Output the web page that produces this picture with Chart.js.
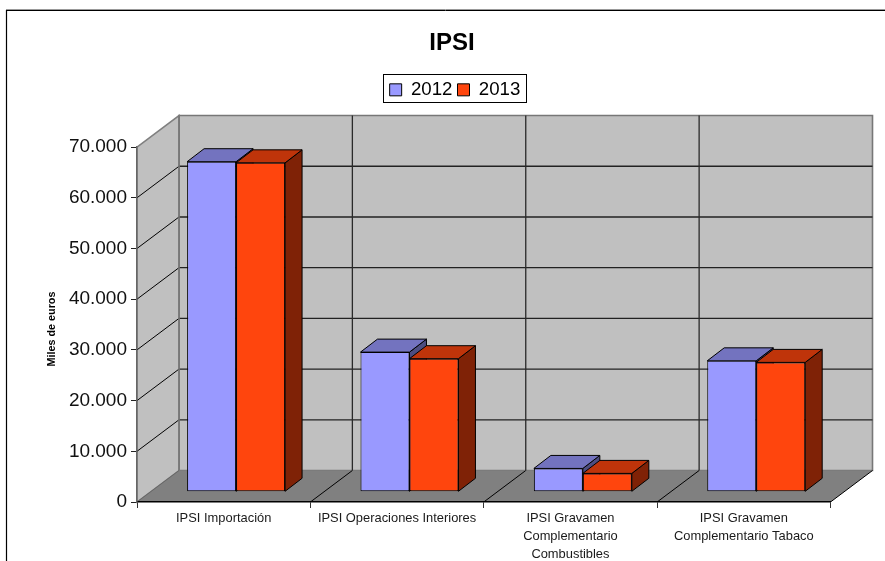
<!DOCTYPE html>
<html><head><meta charset="utf-8">
<style>html,body{margin:0;padding:0;background:#fff;overflow:hidden}canvas{display:block}</style>
<script src="https://cdn.jsdelivr.net/npm/chart.js@4"></script>
</head><body>
<div style="width:885px;height:561px;position:relative"><canvas id="c"></canvas></div>
<script>
const categories = ['IPSI Importación', 'IPSI Operaciones Interiores', ['IPSI Gravamen','Complementario','Combustibles'], ['IPSI Gravamen','Complementario Tabaco']];
const seriesNames = ['2012', '2013'];
const values2012 = [65100, 27550, 4610, 25830];
const values2013 = [64880, 26250, 3630, 25520];
const yTicksMax = 70000, yTickStep = 10000;
const frontColors = ['#9999FF', '#FF450D'];
const topColors = ['#7373BF', '#BF340A'];
const sideColors = ['#4D4D80', '#7F2206'];
const FONT = '"Liberation Sans", Arial, sans-serif';
const WALL = {dx: 42, dy: -31.5};
const BAR_SHIFT = {dx: 12.4, dy: -10.2};
const BAR_DEPTH = {dx: 17, dy: -13};

function poly(ctx, pts, fill, stroke, lw) {
  ctx.beginPath();
  pts.forEach((p, i) => i ? ctx.lineTo(p[0], p[1]) : ctx.moveTo(p[0], p[1]));
  ctx.closePath();
  if (fill) { ctx.fillStyle = fill; ctx.fill(); }
  if (stroke) { ctx.strokeStyle = stroke; ctx.lineWidth = lw || 1; ctx.stroke(); }
}
function line(ctx, x1, y1, x2, y2, color, lw) {
  ctx.beginPath(); ctx.moveTo(x1, y1); ctx.lineTo(x2, y2);
  ctx.strokeStyle = color; ctx.lineWidth = lw || 1; ctx.stroke();
}
const plot3d = {
  id: 'plot3d',
  afterLayout(chart) {
    const t = chart.titleBlock, l = chart.legend;
    t.left = 19; t.right = 885; t.top += 1; t.bottom += 1;
    l.left = 25; l.right = 885; l.top = 75.5; l.bottom = 103;
  },
  beforeDraw(chart) {
    const ctx = chart.ctx, a = chart.chartArea, x = chart.scales.x, y = chart.scales.y;
    const L = a.left, R = a.right, T = a.top, B = a.bottom, dx = WALL.dx, dy = WALL.dy;
    ctx.save();
    // outer frame: open on the right and at the bottom
    ctx.fillStyle = '#fff'; ctx.fillRect(0, 0, chart.width, chart.height);
    line(ctx, 6, 9.5, 885, 9.5, '#999', 1);
    line(ctx, 6, 10.5, 885, 10.5, '#000', 1);
    line(ctx, 6.5, 10, 6.5, 561, '#000', 1.2);
    // legend box
    ctx.strokeStyle = '#000'; ctx.lineWidth = 1;
    ctx.strokeRect(383.5, 74.5, 143, 28);
    // walls and floor
    poly(ctx, [[L+dx,T+dy],[R+dx,T+dy],[R+dx,B+dy],[L+dx,B+dy]], '#C0C0C0', '#777', 1.6);
    poly(ctx, [[L,T],[L+dx,T+dy],[L+dx,B+dy],[L,B]], '#C0C0C0', '#808080', 1.5);
    poly(ctx, [[L,B],[R,B],[R+dx,B+dy],[L+dx,B+dy]], '#808080');
    // value gridlines
    y.ticks.forEach(t => {
      if (t.value === yTicksMax || t.value === 0) return;
      const py = y.getPixelForValue(t.value);
      line(ctx, L, py, L+dx, py+dy, '#000');
      line(ctx, L+dx, py+dy, R+dx, py+dy, '#222', 1.3);
    });
    // category gridlines
    const n = categories.length, w = (R - L) / n;
    for (let i = 1; i < n; i++) {
      const px = L + i * w;
      line(ctx, px, B, px+dx, B+dy, '#000');
      line(ctx, px+dx, B+dy, px+dx, T+dy, '#2a2a2a', 1.3);
    }
    line(ctx, L+dx, T+dy, L+dx, B+dy, '#777', 1.6);
    line(ctx, L, B, L+dx, B+dy, '#666');
    line(ctx, R, B, R+dx, B+dy, '#000');
    ctx.restore();
  },
  beforeDatasetsDraw(chart) {
    const ctx = chart.ctx, ddx = BAR_DEPTH.dx, ddy = BAR_DEPTH.dy;
    ctx.save();
    ctx.translate(BAR_SHIFT.dx, BAR_SHIFT.dy);
    ctx.lineJoin = 'round';
    categories.forEach((_, i) => {
      chart.data.datasets.forEach((ds, d) => {
        const b = chart.getDatasetMeta(d).data[i];
        const l = b.x - b.width / 2, r = b.x + b.width / 2, t = b.y, bt = b.base;
        poly(ctx, [[r,t],[r+ddx,t+ddy],[r+ddx,bt+ddy],[r,bt]], sideColors[d], '#000', 1);
        poly(ctx, [[l,t],[l+ddx,t+ddy],[r+ddx,t+ddy],[r,t]], topColors[d], '#000', 1);
      });
    });
    // bars from the library are drawn in the shifted plane; restored in afterDatasetsDraw
  },
  afterDatasetsDraw(chart) { chart.ctx.restore(); }
};

new Chart(document.getElementById('c'), {
  type: 'bar',
  data: {
    labels: categories,
    datasets: [
      {label: seriesNames[0], data: values2012, backgroundColor: frontColors[0]},
      {label: seriesNames[1], data: values2013, backgroundColor: frontColors[1]}
    ]
  },
  plugins: [plot3d],
  options: {
    responsive: true, maintainAspectRatio: false, animation: false,
    layout: {padding: {left: 30, right: 54.5, top: 0, bottom: 0}},
    datasets: {bar: {barPercentage: 1, categoryPercentage: 0.565, borderColor: '#000', borderWidth: 1, borderSkipped: false, clip: false}},
    scales: {
      x: {
        grid: {drawOnChartArea: false, drawTicks: true, tickLength: 6, color: '#333', offset: true},
        border: {display: true, color: '#000', width: 1.5},
        ticks: {color: '#1a1a1a', font: {family: FONT, size: 12.9, lineHeight: 1.37}, autoSkip: false, maxRotation: 0, minRotation: 0, padding: 2},
        afterFit(s) { s.height = 59; }
      },
      y: {
        min: 0, max: yTicksMax,
        grid: {drawOnChartArea: false, drawTicks: true, tickLength: 6, color: '#222'},
        border: {display: true, color: '#666', width: 1.5},
        ticks: {stepSize: yTickStep, color: '#111', font: {family: FONT, size: 19}, padding: 4,
          callback: v => v === 0 ? '0' : (v / 1000) + '.000'},
        title: {display: true, text: 'Miles de euros   ', color: '#000', font: {family: FONT, size: 10.8, weight: 'bold'}, padding: {top: 16, bottom: 0}},
        afterFit(s) { s.width = 107; }
      }
    },
    plugins: {
      tooltip: {enabled: false},
      title: {display: true, text: 'IPSI', color: '#000', font: {family: FONT, size: 24, weight: 'bold'}, padding: {top: 27.6, bottom: 57}},
      legend: {display: true, position: 'top',
        labels: {color: '#000', boxWidth: 12, boxHeight: 12, padding: 5, font: {family: FONT, size: 18.67}}}
    }
  }
});
</script>
</body></html>
